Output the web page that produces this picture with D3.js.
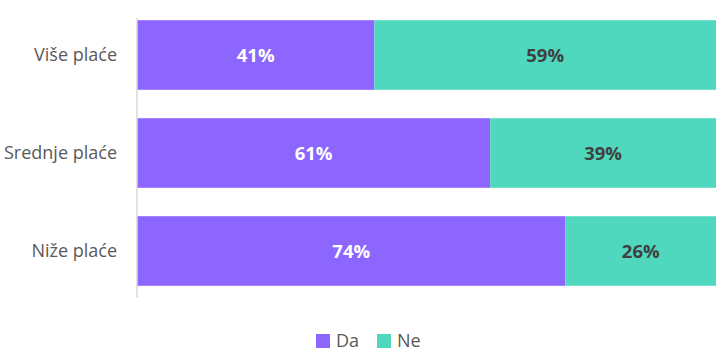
<!DOCTYPE html>
<html><head><meta charset="utf-8">
<script src="https://cdn.jsdelivr.net/npm/d3@7"></script>
<style>body{margin:0;background:#fff}svg{display:block}</style>
</head><body>
<script>
const categories = ["Više plaće", "Srednje plaće", "Niže plaće"];
const seriesNames = ["Da", "Ne"];
const da = [41, 61, 74];
const ne = [59, 39, 26];
const colors = ["#8c66ff", "#4fd8bd"];
const labelColors = ["#ffffff", "#404040"];

const W = 727, H = 355;
const svg = d3.select("body").append("svg").attr("width", W).attr("height", H);
const font = "'Open Sans', 'Liberation Sans', sans-serif";

const x = d3.scaleLinear().domain([0, 100]).range([137, 716]);
const y = d3.scaleBand().domain(categories).range([6, 300]).paddingInner(0.29).paddingOuter(0.145);

const rows = categories.map((c, i) => ({cat: c, vals: [da[i], ne[i]]}));
const stacked = d3.stack().keys([0, 1]).value((d, k) => d.vals[k])(rows);

stacked.forEach((layer, k) => {
  const g = svg.append("g");
  g.selectAll("rect").data(layer).join("rect")
    .attr("x", d => x(d[0])).attr("width", d => x(d[1]) - x(d[0]))
    .attr("y", d => y(d.data.cat)).attr("height", y.bandwidth())
    .attr("fill", colors[k]);
  g.selectAll("text").data(layer).join("text")
    .attr("x", d => (x(d[0]) + x(d[1])) / 2)
    .attr("y", d => y(d.data.cat) + y.bandwidth() / 2)
    .attr("dy", "0.36em").attr("text-anchor", "middle")
    .attr("font-family", font).attr("font-size", 18.5).attr("font-weight", "bold")
    .attr("fill", labelColors[k])
    .text(d => d.data.vals[k] + "%");
});

const axis = svg.append("g").attr("transform", "translate(137,0)")
  .call(d3.axisLeft(y).tickSize(0).tickPadding(20));
axis.select(".domain").attr("stroke", "#d9d9d9").attr("stroke-width", 1.5).attr("d", "M0,18V298");
axis.selectAll("text").attr("font-family", font).attr("font-size", 18).attr("fill", "#595959");

const legend = svg.append("g");
const lx = [316, 377];
seriesNames.forEach((s, i) => {
  legend.append("rect").attr("x", lx[i]).attr("y", 334).attr("width", 14).attr("height", 14).attr("fill", colors[i]);
  legend.append("text").attr("x", lx[i] + 20).attr("y", 341).attr("dy", "0.36em")
    .attr("font-family", font).attr("font-size", 18).attr("fill", "#595959").text(s);
});
</script>
</body></html>
